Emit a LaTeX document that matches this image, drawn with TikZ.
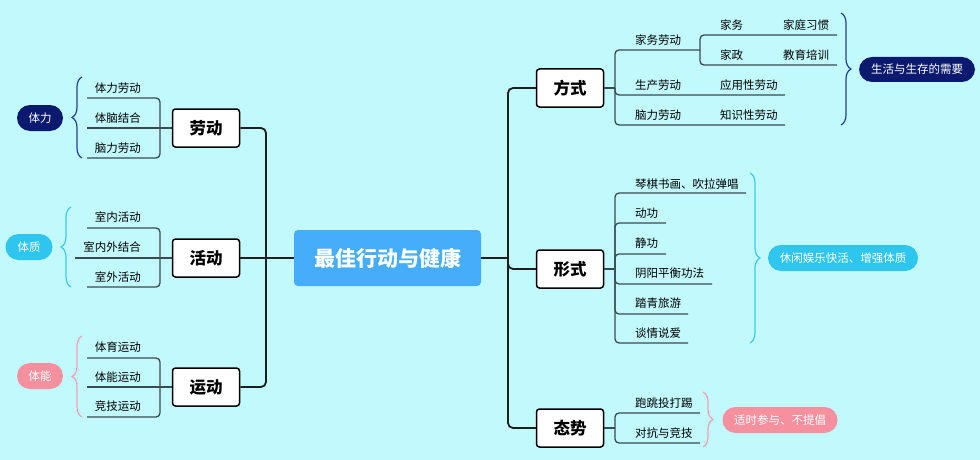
\documentclass[tikz,border=0pt]{standalone}
\usepackage{fontspec}
\setmainfont{Noto Sans CJK SC}
\usetikzlibrary{decorations.pathreplacing}
\definecolor{bgc}{HTML}{C1F9FD}
\definecolor{centerc}{HTML}{45ADF9}
\definecolor{navy}{HTML}{0B1A6E}
\definecolor{sky}{HTML}{2EC5EF}
\definecolor{rose}{HTML}{F7909E}
\definecolor{bnavy}{HTML}{24418F}
\definecolor{bsky}{HTML}{3CCAF0}
\definecolor{brose}{HTML}{F2A2B2}
\definecolor{subc}{HTML}{3A4A52}
\begin{document}
\begin{tikzpicture}[x=1pt,y=-1pt,
  mainbox/.style={draw=black, line width=1.5pt, fill=white, rounded corners=3pt,
    minimum width=67pt, minimum height=38pt, inner sep=0pt,
    font=\fontsize{16.5}{16.5}\selectfont\bfseries},
  centerbox/.style={fill=centerc, rounded corners=4pt, minimum width=187pt,
    minimum height=56pt, inner sep=0pt, text=white,
    font=\fontsize{21}{21}\selectfont\bfseries},
  pill/.style={rounded corners=13pt, minimum height=26pt, inner sep=0pt,
    text=white, font=\fontsize{11.5}{12}\selectfont},
  item/.style={inner sep=0pt, font=\fontsize{11.5}{12}\selectfont},
  mainline/.style={line width=1.8pt, draw=black!88, rounded corners=5pt},
  subline/.style={line width=1.3pt, draw=subc, rounded corners=4pt},
  bracestyle/.style={decorate, decoration={brace, amplitude=10pt}, line width=1.2pt}
]
\fill[bgc] (0,0) rectangle (980,460);
\useasboundingbox (0,0) rectangle (980,460);

% central
\node[centerbox] (C) at (387.5,258) {最佳行动与健康};

% main boxes
\node[mainbox] (LD) at (206,128) {劳动};
\node[mainbox] (HD) at (206,258) {活动};
\node[mainbox] (YD) at (206,387) {运动};
\node[mainbox] (FS) at (570,88) {方式};
\node[mainbox] (XS) at (570,269) {形式};
\node[mainbox] (TS) at (570,428) {态势};

% trunks
\coordinate (LT1) at (266,128);
\coordinate (LT2) at (266,387);
\draw[mainline] (LD.east) -- (LT1) -- (LT2) -- (YD.east);
\draw[mainline] (C.west) -- (HD.east);
\coordinate (RT1) at (508,88);
\coordinate (RT2) at (508,428);
\coordinate (RTc) at (508,258);
\draw[mainline] (FS.west) -- (RT1) -- (RT2) -- (TS.west);
\draw[mainline] (C.east) -- (RTc);
\draw[mainline] (RTc) -- (508,269) -- (XS.west);

% ---------- left: 劳动
\node[item, anchor=east] (l11) at (141,88) {体力劳动};
\node[item, anchor=east] (l12) at (141,118) {体脑结合};
\node[item, anchor=east] (l13) at (141,148) {脑力劳动};
\coordinate (jL1) at (160,128);
\draw[subline] (jL1) |- (87,98) coordinate (uL11);
\draw[subline] (LD.west) -- (87,128) coordinate (uL12);
\draw[subline] (jL1) |- (87,158) coordinate (uL13);
\draw[bracestyle, bnavy] (82,158) -- (82,77);
\node[pill, fill=navy, minimum width=46pt] (P1) at (40,118) {体力};

% ---------- left: 活动
\node[item, anchor=east] (l21) at (141,217) {室内活动};
\node[item, anchor=east] (l22) at (141,247) {室内外结合};
\node[item, anchor=east] (l23) at (141,277) {室外活动};
\coordinate (jL2) at (160,258);
\draw[subline] (jL2) |- (87,228) coordinate (uL21);
\draw[subline] (HD.west) -- (75,258) coordinate (uL22);
\draw[subline] (jL2) |- (87,287) coordinate (uL23);
\draw[bracestyle, bsky] (71,287) -- (71,207);
\node[pill, fill=sky, minimum width=47pt] (P2) at (29,247) {体质};

% ---------- left: 运动
\node[item, anchor=east] (l31) at (141,347) {体育运动};
\node[item, anchor=east] (l32) at (141,377) {体能运动};
\node[item, anchor=east] (l33) at (141,406) {竞技运动};
\coordinate (jL3) at (160,387);
\draw[subline] (jL3) |- (87,358) coordinate (uL31);
\draw[subline] (YD.west) -- (87,387) coordinate (uL32);
\draw[subline] (jL3) |- (87,417) coordinate (uL33);
\draw[bracestyle, brose] (82,417) -- (82,336);
\node[pill, fill=rose, minimum width=46pt] (P3) at (40,376) {体能};

% ---------- right: 方式
\coordinate (jR1) at (615,88);
\draw[subline] (FS.east) -- (jR1);
\node[item, anchor=west] (r11) at (635,40) {家务劳动};
\node[item, anchor=west] (r12) at (635,85) {生产劳动};
\node[item, anchor=west] (r13) at (635,115) {脑力劳动};
\node[item, anchor=west] (r111) at (720,25) {家务};
\node[item, anchor=west] (r112) at (783,25) {家庭习惯};
\node[item, anchor=west] (r121) at (720,55) {家政};
\node[item, anchor=west] (r122) at (783,55) {教育培训};
\node[item, anchor=west] (r21) at (720,85) {应用性劳动};
\node[item, anchor=west] (r31) at (720,115) {知识性劳动};
\coordinate (jR11) at (700,50);
\draw[subline] (jR1) |- (jR11);
\draw[subline] (jR1) |- (785,95) coordinate (uR12);
\draw[subline] (jR1) |- (785,125) coordinate (uR13);
\draw[subline] (jR11) |- (837,35) coordinate (uR111);
\draw[subline] (jR11) |- (837,65) coordinate (uR112);
\draw[bracestyle, bnavy] (841,13) -- (841,125);
\node[pill, fill=navy, minimum width=116pt, minimum height=25pt] (P4) at (917,69.5) {生活与生存的需要};

% ---------- right: 形式
\coordinate (jR2) at (615,269);
\draw[subline] (XS.east) -- (jR2);
\node[item, anchor=west] (s1) at (635,184) {琴棋书画、吹拉弹唱};
\node[item, anchor=west] (s2) at (635,213) {动功};
\node[item, anchor=west] (s3) at (635,243) {静功};
\node[item, anchor=west] (s4) at (635,273) {阴阳平衡功法};
\node[item, anchor=west] (s5) at (635,303) {踏青旅游};
\node[item, anchor=west] (s6) at (635,333) {谈情说爱};
\draw[subline] (jR2) |- (746,193) coordinate (uS1);
\draw[subline] (jR2) |- (666,223) coordinate (uS2);
\draw[subline] (jR2) |- (666,254) coordinate (uS3);
\draw[subline] (jR2) |- (712,284) coordinate (uS4);
\draw[subline] (jR2) |- (688,314) coordinate (uS5);
\draw[subline] (jR2) |- (688,343) coordinate (uS6);
\draw[bracestyle, bsky] (750,173) -- (750,343);
\node[pill, fill=sky, minimum width=150pt] (P5) at (843,258) {休闲娱乐快活、增强体质};

% ---------- right: 态势
\coordinate (jR3) at (615,428);
\draw[subline] (TS.east) -- (jR3);
\node[item, anchor=west] (t1) at (635,403) {跑跳投打踢};
\node[item, anchor=west] (t2) at (635,433) {对抗与竞技};
\draw[subline] (jR3) |- (700,413) coordinate (uT1);
\draw[subline] (jR3) |- (700,443) coordinate (uT2);
\draw[bracestyle, brose] (703,392) -- (703,447);
\node[pill, fill=rose, minimum width=115pt] (P6) at (780,420) {适时参与、不提倡};
\end{tikzpicture}
\end{document}
